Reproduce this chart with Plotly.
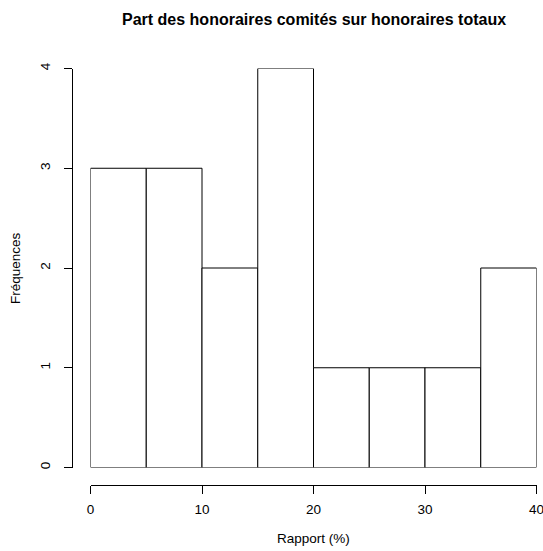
import plotly.graph_objects as go

# Histogram of the fee ratio, 5-point bins from 0 to 40 %
bin_edges = [0, 5, 10, 15, 20, 25, 30, 35, 40]
counts = [3, 3, 2, 4, 1, 1, 1, 2]
x_ticks = [0, 10, 20, 30, 40]
y_ticks = [0, 1, 2, 3, 4]

title_text = "Part des honoraires comités sur honoraires totaux"
x_title = "Rapport (%)"
y_title = "Fréquences"

W, H = 543, 551
ml, mr, mt, mb = 40, 0, 30, 30
pw, ph = W - ml - mr, H - mt - mb


def px_x(p):
    return (p - ml) / pw


def px_y(p):
    return (H - mb - p) / ph


centers = [(a + b) / 2 for a, b in zip(bin_edges[:-1], bin_edges[1:])]
widths = [b - a for a, b in zip(bin_edges[:-1], bin_edges[1:])]

FONT = "Liberation Sans, Arial, Helvetica, sans-serif"

fig = go.Figure(
    go.Bar(
        x=centers,
        y=counts,
        width=widths,
        marker=dict(color="white", line=dict(color="black", width=1)),
        hoverinfo="skip",
    )
)

fig.update_layout(
    width=W,
    height=H,
    margin=dict(l=ml, r=mr, t=mt, b=mb, autoexpand=False),
    paper_bgcolor="white",
    plot_bgcolor="white",
    showlegend=False,
    font=dict(family=FONT, size=13.5, color="black"),
    xaxis=dict(
        range=[bin_edges[0], bin_edges[-1]],
        domain=[px_x(90.5), px_x(536.5)],
        anchor="free",
        position=px_y(484.5),
        tickvals=x_ticks,
        ticks="outside",
        ticklen=8,
        tickwidth=1,
        tickcolor="black",
        showline=True,
        linecolor="black",
        linewidth=1,
        showgrid=False,
        zeroline=False,
        ticklabelstandoff=4,
        ticklabeloverflow="allow",
        automargin=False,
    ),
    yaxis=dict(
        range=[0, 4],
        domain=[px_y(467.5), px_y(68.5)],
        anchor="free",
        position=px_x(71.5),
        tickvals=y_ticks,
        tickangle=-90,
        ticks="outside",
        ticklen=8,
        tickwidth=1,
        tickcolor="black",
        showline=True,
        linecolor="black",
        linewidth=1,
        showgrid=False,
        zeroline=False,
        ticklabelstandoff=8,
        automargin=False,
    ),
    annotations=[
        dict(
            text=f"<b>{title_text}</b>",
            xref="paper", yref="paper",
            x=px_x(313.5), y=px_y(20),
            xanchor="center", yanchor="middle",
            showarrow=False,
            font=dict(family=FONT, size=16, color="black"),
        ),
        dict(
            text=x_title,
            xref="paper", yref="paper",
            x=px_x(313.5), y=px_y(538),
            xanchor="center", yanchor="middle",
            showarrow=False,
            font=dict(family=FONT, size=13.5, color="black"),
        ),
        dict(
            text=y_title,
            xref="paper", yref="paper",
            x=px_x(15), y=px_y(268),
            xanchor="center", yanchor="middle",
            textangle=-90,
            showarrow=False,
            font=dict(family=FONT, size=13.5, color="black"),
        ),
    ],
)

fig.write_html("out.html")
